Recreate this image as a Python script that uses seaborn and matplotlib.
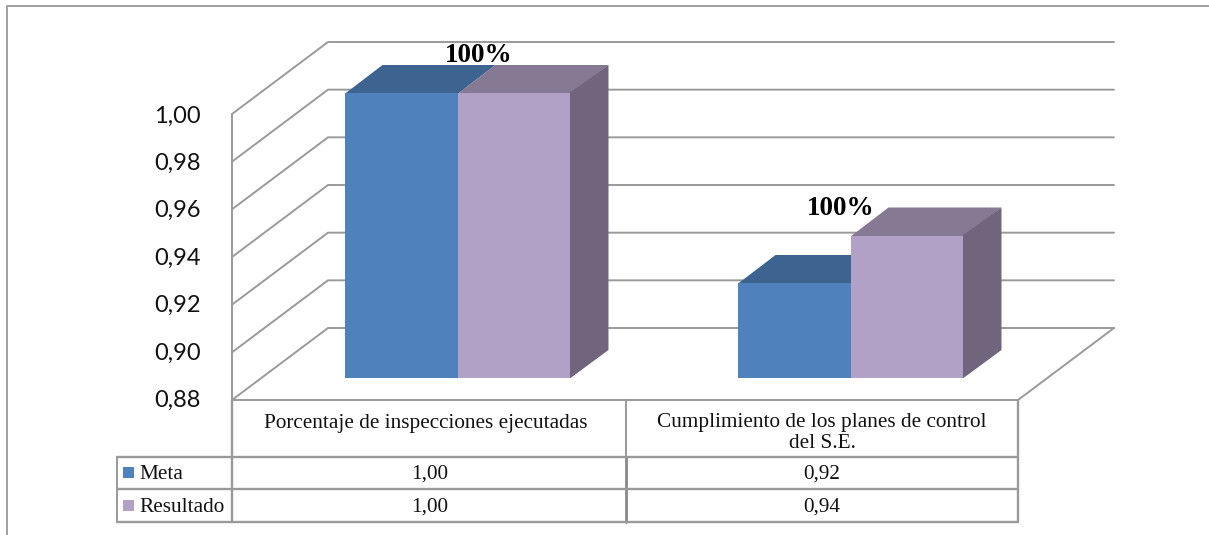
import matplotlib
import numpy as np
import pandas as pd

matplotlib.use("Agg")
import matplotlib.pyplot as plt
import seaborn as sns
from matplotlib.patches import Polygon, Rectangle

categories = ["Porcentaje de inspecciones ejecutadas", "Cumplimiento de los planes de control\ndel S.E."]
series_names = ["Meta", "Resultado"]
meta_values = [1.00, 0.92]
resultado_values = [1.00, 0.94]
y_ticks = [0.88, 0.90, 0.92, 0.94, 0.96, 0.98, 1.00]
point_labels = ["100%", "100%"]

colors = {"Meta": "#4F81BD", "Resultado": "#B2A1C7"}
top_colors = {"Meta": "#3D6490", "Resultado": "#857993"}
side_color = "#71657E"
line_color = "#9A9A9A"

W, H = 1209, 535
DX, DY = 96, 72  # wall depth in pixels
BAR_DX, BAR_DY = 38, 28  # bar depth in pixels
PX_PER_UNIT = 286 / 0.12
BAR_PX_PER_UNIT = 285 / 0.12


def box(left, top, right, bottom):
    return [left / W, 1 - bottom / H, (right - left) / W, (bottom - top) / H]


def wall_y(v):
    return 400 - (v - 0.88) * PX_PER_UNIT


def comma(v):
    return f"{v:.2f}".replace(".", ",")


sns.set_theme(style="white")
serif = "Liberation Serif"
table_size = 15.3

df = pd.DataFrame(
    {
        "indicador": categories * 2,
        "serie": np.repeat(series_names, 2),
        "valor": meta_values + resultado_values,
    }
)

fig = plt.figure(figsize=(W / 100, H / 100), dpi=100)

# pixel overlay for the 3D walls and the data table
deco = fig.add_axes([0, 0, 1, 1], zorder=0)
deco.set_xlim(0, W)
deco.set_ylim(H, 0)
deco.axis("off")

lw = 1.4
deco.plot([6.5, 6.5, W], [H, 5.5, 5.5], color="#A0A0A0", lw=lw)
for v in y_ticks:
    y = wall_y(v)
    deco.plot([232, 232 + DX, 1114], [y, y - DY, y - DY], color=line_color, lw=lw)
deco.plot([232, 232], [wall_y(1.0), 400], color=line_color, lw=lw)
deco.plot([232, 1018, 1114], [400, 400, 400 - DY], color=line_color, lw=lw)

# data table
deco.plot([232, 232], [400, 522], color=line_color, lw=lw + 0.3)
deco.plot([625.5, 625.5], [400, 457], color=line_color, lw=lw)
deco.plot([625.5, 625.5], [457, 522], color="#888888", lw=lw + 0.6)
deco.plot([1018, 1018], [400, 522], color=line_color, lw=lw + 0.3)
deco.plot([116.5, 116.5], [457, 522], color=line_color, lw=lw)
for y in [457, 489, 522]:
    deco.plot([116.5, 1018], [y, y], color=line_color, lw=lw + 0.3)

for i, cat in enumerate(categories):
    cx = 425.5 + i * 396.5
    cat_y = 423.5 if "\n" not in cat else 433
    deco.text(cx, cat_y, cat, family=serif, fontsize=table_size, color="#111111",
              ha="center", va="center", linespacing=1.1)

for row, (name, values) in enumerate(zip(series_names, [meta_values, resultado_values])):
    y = 474.5 + row * 32.5
    deco.add_patch(Rectangle((123, y - 7.5), 11, 11, color=colors[name], lw=0))
    deco.text(139, y, name, family=serif, fontsize=table_size, color="#111111", ha="left", va="center")
    for i, v in enumerate(values):
        deco.text(429.5 + i * 392, y, comma(v), family=serif, fontsize=table_size,
                  color="#111111", ha="center", va="center")

# value axis on the front edge of the left wall
ax_wall = fig.add_axes(box(231, 114, 1018, 398.5), zorder=1)
ax_wall.patch.set_alpha(0)
ax_wall.set_ylim(0.88, 1.00)
ax_wall.set_xticks([])
ax_wall.set_yticks(y_ticks)
ax_wall.set_yticklabels([comma(v) for v in y_ticks], family="Lato", fontsize=17, color="#111111")
ax_wall.tick_params(axis="y", length=0, pad=22)
sns.despine(ax=ax_wall, left=True, bottom=True)

# bars on their own plane, shifted into the depth of the chart
ax = fig.add_axes(box(261, 378 - 0.12 * BAR_PX_PER_UNIT, 1047, 378), zorder=2)
ax.patch.set_alpha(0)
sns.barplot(
    data=df,
    x="indicador",
    y="valor",
    hue="serie",
    hue_order=series_names,
    palette=colors,
    saturation=1,
    width=0.575,
    gap=0,
    linewidth=0,
    legend=False,
    ax=ax,
)
ax.set_ylim(0.88, 1.00)
ax.set_xlim(-0.5, 1.5)
ax.axis("off")

ddx = BAR_DX / 393
ddy = BAR_DY / BAR_PX_PER_UNIT
seam_x = 1 / 393  # faces overlap the front by a pixel so no gridline shows in the seam
seam_y = 1 / BAR_PX_PER_UNIT
for name, bars in zip(series_names, ax.containers):
    for bar in bars:
        bar.set_zorder(3)
        x0 = bar.get_x()
        x1 = x0 + bar.get_width()
        top = bar.get_height()
        ax.add_patch(Polygon(
            [(x0, top - seam_y), (x1, top - seam_y), (x1 + ddx, top + ddy), (x0 + ddx, top + ddy)],
            closed=True, color=top_colors[name], lw=0, zorder=2, clip_on=False,
        ))
        if name == "Resultado":
            ax.add_patch(Polygon(
                [(x1 - seam_x, 0.88), (x1, 0.88), (x1 + ddx, 0.88 + ddy), (x1 + ddx, top + ddy), (x1 - seam_x, top)],
                closed=True, color=side_color, lw=0, zorder=2, clip_on=False,
            ))

# bold percentage labels, placed above the Resultado bars
label_offsets = [(21, 38), (-10, 27)]
for i, (label, off) in enumerate(zip(point_labels, label_offsets)):
    ax.annotate(
        label, xy=(i, resultado_values[i]), xytext=(off[0] * 0.72, off[1] * 0.72),
        textcoords="offset points", family=serif, fontweight="bold", fontsize=19.5,
        color="black", ha="center", va="center", annotation_clip=False, zorder=1,
    )

fig.savefig("out.png", dpi=100)
plt.close(fig)
